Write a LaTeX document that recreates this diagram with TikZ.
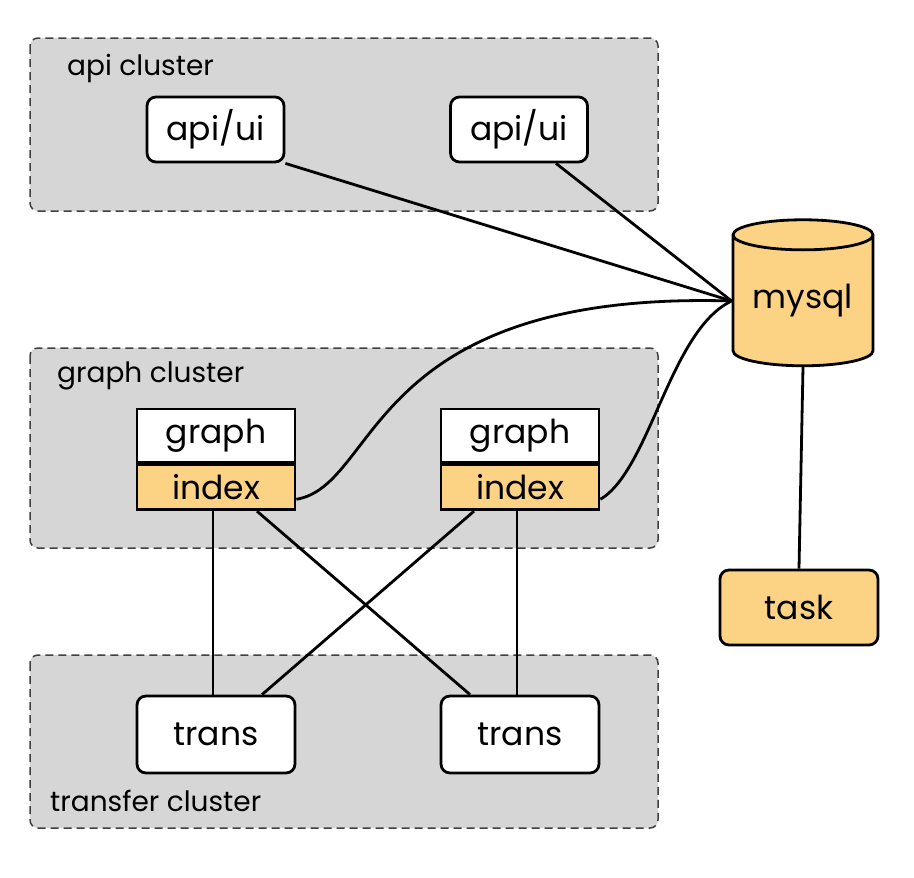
\documentclass[tikz,border=0pt]{standalone}
\usepackage{fontspec}
\setmainfont{Poppins}
\usetikzlibrary{positioning,shapes.geometric}
\definecolor{clustergray}{HTML}{D6D6D6}
\definecolor{dborange}{HTML}{FCD385}
\tikzset{
    cluster/.style={draw=black!75, fill=clustergray, dash pattern=on 8pt off 5pt, line width=1.5pt, rounded corners=8pt},
    clusterlabel/.style={anchor=west, inner sep=0pt, font=\fontsize{28}{28}\selectfont},
    svc/.style={draw, line width=2.8pt, rounded corners=9pt, fill=white, inner sep=0pt, font=\fontsize{33}{33}\selectfont},
    part/.style={draw, line width=2.8pt, fill=white, inner sep=0pt, minimum width=158pt, font=\fontsize{33}{33}\selectfont},
    link/.style={line width=2.8pt}
}
\begin{document}
\begin{tikzpicture}[x=1pt,y=-1pt]
    \useasboundingbox (0,0) rectangle (914,878);
    \draw[cluster] (30,38) rectangle (658,211);
    \draw[cluster] (30,348) rectangle (658,548);
    \draw[cluster] (30,655) rectangle (658,828);
    \node[clusterlabel] (apilabel) at (67,68) {api cluster};
    \node[clusterlabel] (graphlabel) at (57,376) {graph cluster};
    \node[clusterlabel] (translabel) at (50,801) {transfer cluster};

    \node[svc, minimum width=137pt, minimum height=65pt] (ui1) at (215.5,129.5) {api/ui};
    \node[svc, minimum width=137pt, minimum height=65pt] (ui2) at (519,129.5) {api/ui};

    \node[part, minimum height=53pt] (graph1) at (216,435.5) {graph};
    \node[part, fill=dborange, minimum height=45pt, below=0pt of graph1] (idx1) {index};
    \node[part, minimum height=53pt] (graph2) at (520,435.5) {graph};
    \node[part, fill=dborange, minimum height=45pt, below=0pt of graph2] (idx2) {index};

    \node[svc, minimum width=158pt, minimum height=77pt] (trans1) at (216,734.5) {trans};
    \node[svc, minimum width=158pt, minimum height=77pt] (trans2) at (520,734.5) {trans};

    \node[cylinder, shape border rotate=90, aspect=0.3, draw, line width=2.8pt, fill=dborange, inner sep=0pt,
          minimum width=140pt, minimum height=146pt, font=\fontsize{33}{33}\selectfont] (mysql) at (803,301) {mysql};
    \node[svc, fill=dborange, minimum width=158pt, minimum height=75pt] (task) at (799,607.5) {task};

    \draw[link] (ui1.south east) -- (mysql.west);
    \draw[link] ([xshift=37pt]ui2.south) -- (mysql.west);
    \draw[link] ([yshift=-12pt]idx1.east) .. controls (380,485) and (365,290) .. (mysql.west);
    \draw[link] ([yshift=-12pt]idx2.east) .. controls (650,470) and (670,330) .. (mysql.west);
    \draw[link] ([xshift=-3pt]idx1.south) -- ([xshift=-3pt]trans1.north);
    \draw[link] ([xshift=41pt]idx1.south) -- ([xshift=-50pt]trans2.north);
    \draw[link] ([xshift=-46pt]idx2.south) -- ([xshift=46pt]trans1.north);
    \draw[link] ([xshift=-3pt]idx2.south) -- ([xshift=-3pt]trans2.north);
    \draw[link] (mysql.south) -- (task.north);
\end{tikzpicture}
\end{document}
